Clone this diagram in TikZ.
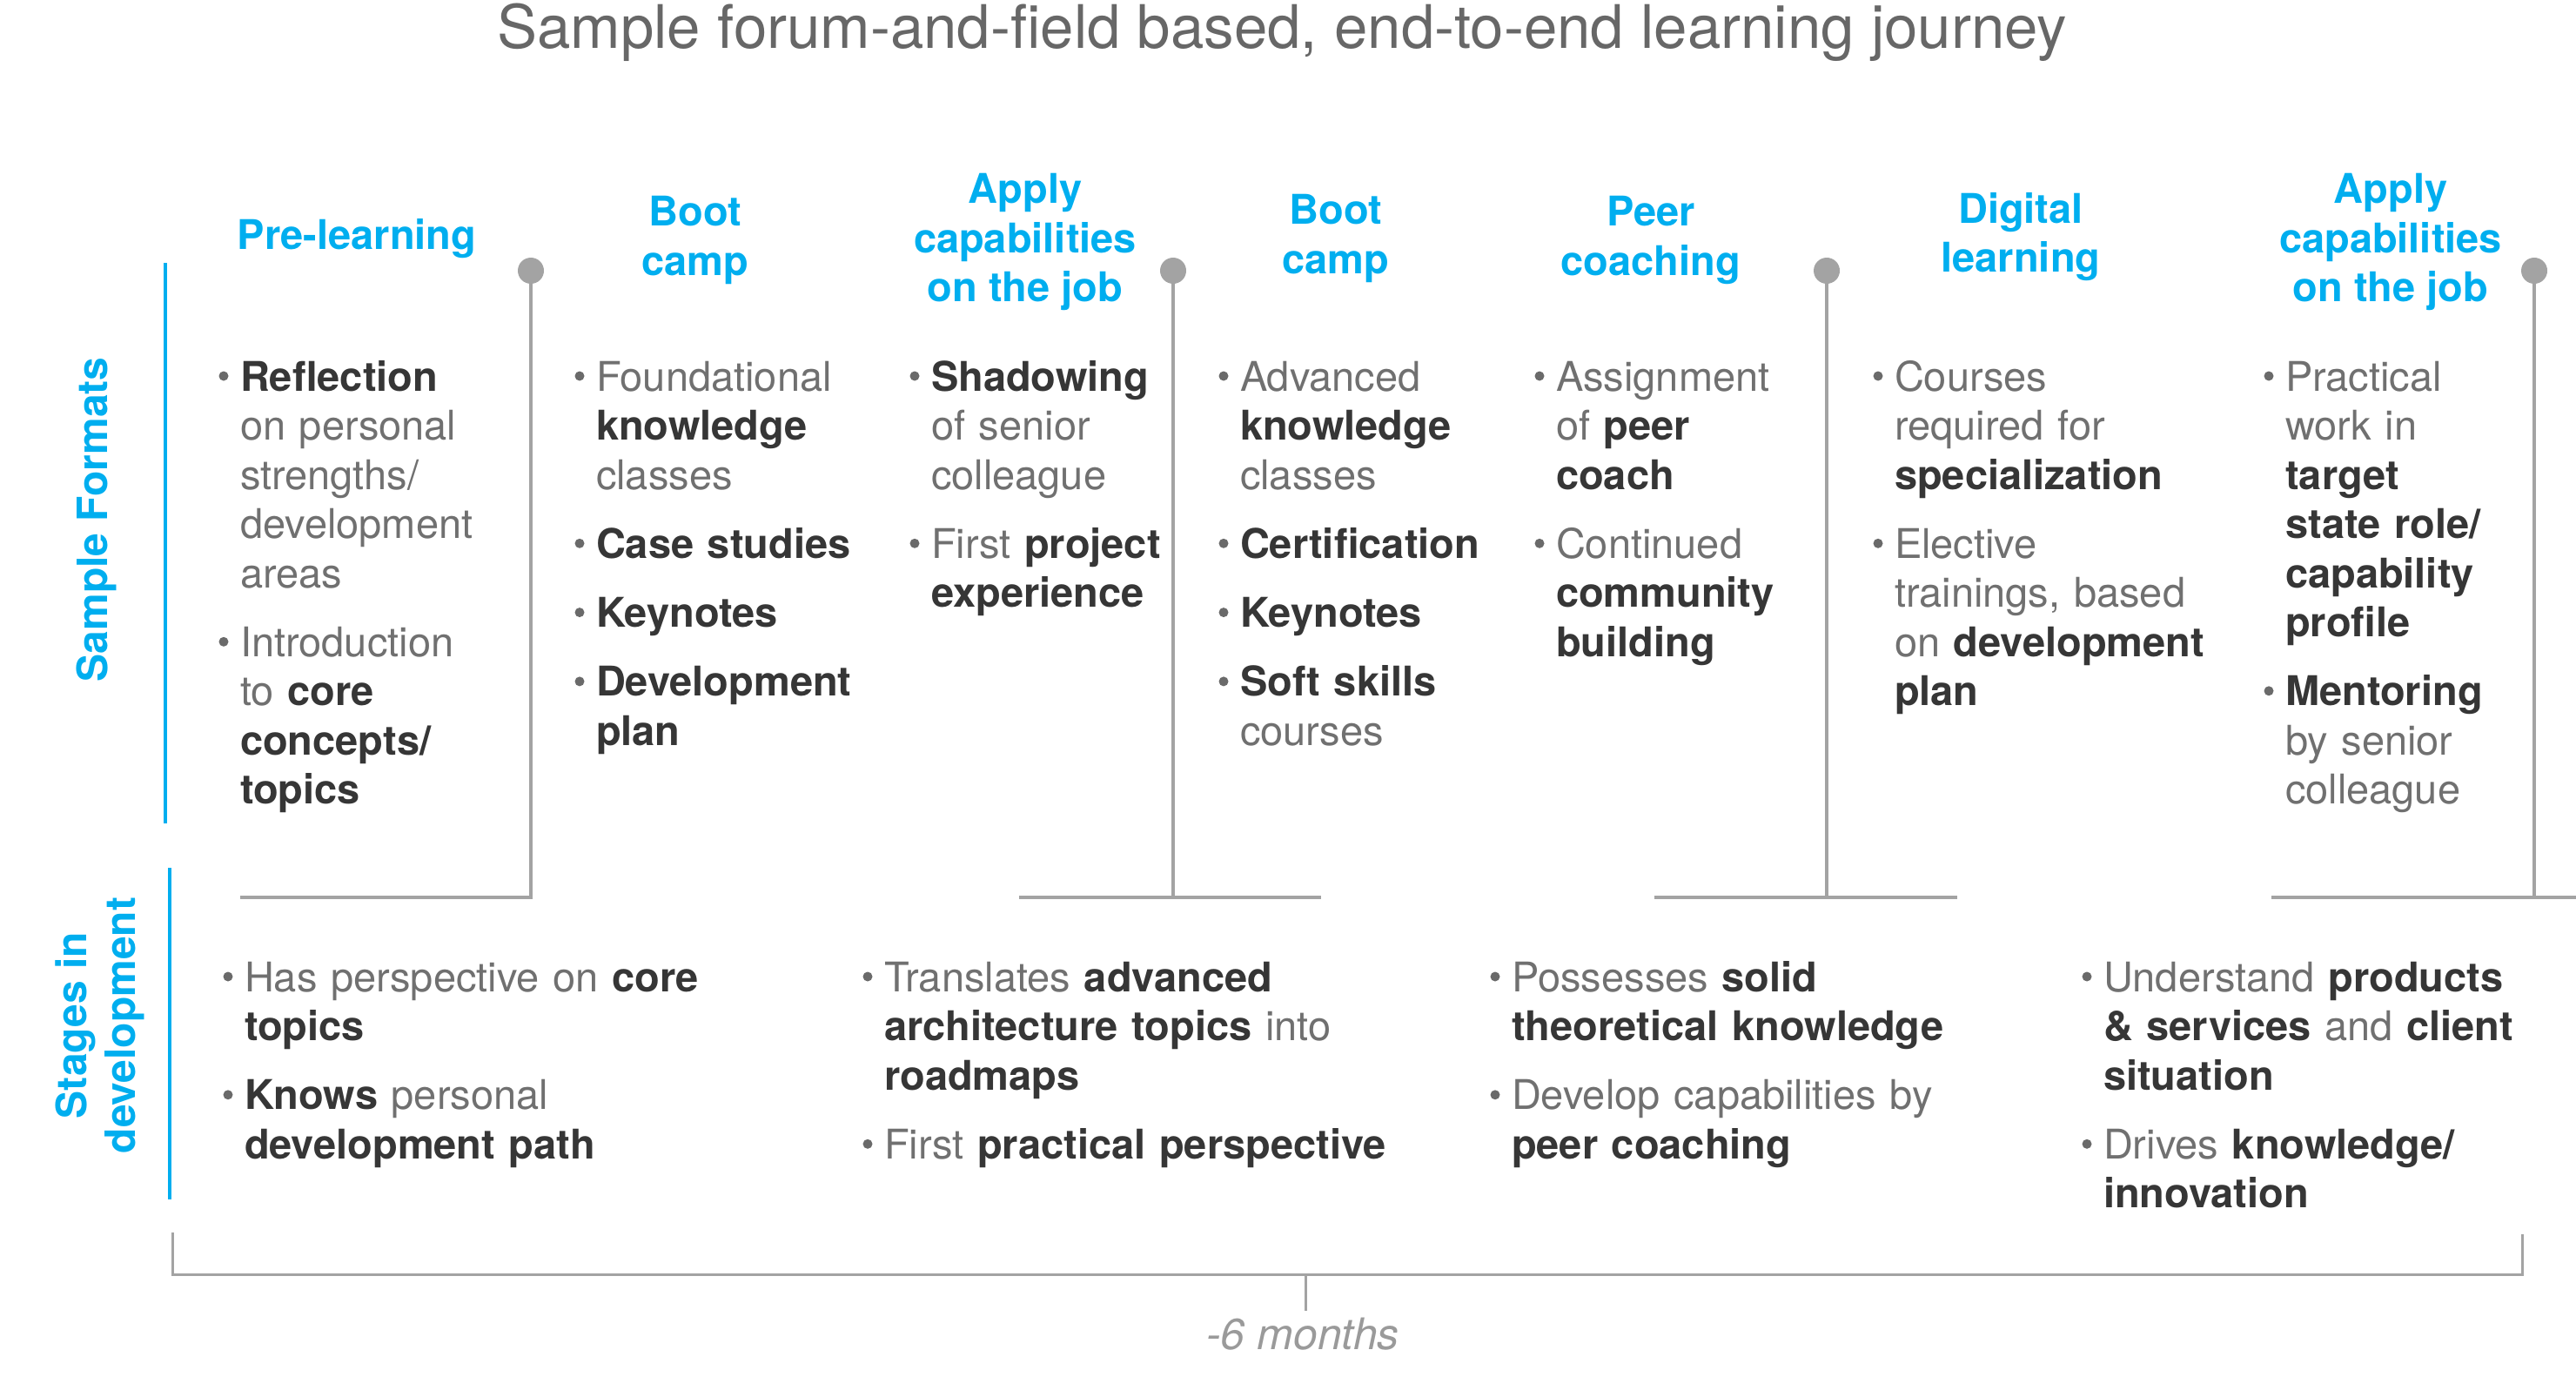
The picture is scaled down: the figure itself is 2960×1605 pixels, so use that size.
\documentclass[tikz,border=0pt]{standalone}
\usepackage{fontspec}
\setmainfont{TeX Gyre Heros}
\definecolor{cblue}{HTML}{00AEEF}
\definecolor{cgray}{HTML}{707070}
\definecolor{cdark}{HTML}{363636}
\definecolor{cline}{HTML}{A3A3A3}
\definecolor{cbul}{HTML}{6A6A6A}
\definecolor{ctitle}{HTML}{676767}
\definecolor{cmonth}{HTML}{9A9A9A}
\newcommand\B[1]{{\bfseries\color{cdark}#1}}
\newcommand\bul{\leavevmode\llap{\tikz[baseline=0pt,x=1pt,y=1pt]{\path (0,0); \fill[cbul] (0,8.5) circle[radius=2.75pt];}\hspace{6.75pt}}}
\newcommand\nxt{\par\vspace{11.4pt}}
\tikzset{
  every node/.style={inner sep=0pt,outer sep=0pt},
  hdr/.style={text=cblue,font=\fontsize{23.5}{28.25}\selectfont\bfseries,align=center,anchor=center},
  fmt/.style={anchor=base west,text width=220pt,align=left,text=cgray,font=\fontsize{23.5}{28.25}\selectfont},
  stg/.style={fmt,text width=330pt},
  pinhead/.style={circle,fill=cline,minimum size=15pt},
  gline/.style={draw=cline,line width=1.75pt},
  bline/.style={draw=cblue,line width=2pt},
  side/.style={text=cblue,font=\fontsize{24}{28}\selectfont\bfseries,rotate=90,align=center},
}
\begin{document}
\begin{tikzpicture}[x=0.5pt,y=-0.5pt]
\useasboundingbox (0,0) rectangle (2960,1605);
% title
\node[anchor=base,text=ctitle,font=\fontsize{34.5}{40}\selectfont] (title) at (1473,56) {Sample forum-and-field based, end-to-end learning journey};
% headers
\node[hdr] (h1) at (410,274) {Pre-learning};
\node[hdr] (h2) at (799,276) {Boot\\camp};
\node[hdr] (h3) at (1178,278) {Apply\\capabilities\\on the job};
\node[hdr] (h4) at (1535,274) {Boot\\camp};
\node[hdr] (h5) at (1897,276) {Peer\\coaching};
\node[hdr] (h6) at (2322,272) {Digital\\learning};
\node[hdr] (h7) at (2747,278) {Apply\\capabilities\\on the job};
% side labels
\coordinate (sfa) at (190,302); \coordinate (sfb) at (190,946);
\draw[bline] (sfa) -- (sfb);
\coordinate (sda) at (195,997); \coordinate (sdb) at (195,1378);
\draw[bline] (sda) -- (sdb);
\node[side,anchor=base] (sf) at (123,597) {Sample Formats};
\node[side] (sd) at (115,1178) {Stages in\\development};
% pins
\node[pinhead] (pin1) at (610,311) {};
\coordinate (pin1b) at (610,1031); \coordinate (bar1a) at (276,1031);
\draw[gline] (pin1.center) -- (pin1b) -- (bar1a);
\node[pinhead] (pin2) at (1348,311) {};
\coordinate (pin2b) at (1348,1031); \coordinate (bar2a) at (1171,1031); \coordinate (bar2b) at (1518,1031);
\draw[gline] (pin2.center) -- (pin2b); \draw[gline] (bar2a) -- (bar2b);
\node[pinhead] (pin3) at (2099,311) {};
\coordinate (pin3b) at (2099,1031); \coordinate (bar3a) at (1901,1031); \coordinate (bar3b) at (2249,1031);
\draw[gline] (pin3.center) -- (pin3b); \draw[gline] (bar3a) -- (bar3b);
\node[pinhead] (pin4) at (2912,311) {};
\coordinate (pin4b) at (2912,1031); \coordinate (bar4a) at (2610,1031); \coordinate (bar4b) at (2960,1031);
\draw[gline] (pin4.center) -- (pin4b); \draw[gline] (bar4a) -- (bar4b);
% formats
\node[fmt] (f1) at (276,449) {\bul\B{Reflection}\\on personal\\strengths/\\development\\areas\nxt\bul Introduction\\to \B{core}\\\B{concepts/}\\\B{topics}};
\node[fmt] (f2) at (685,449) {\bul Foundational\\\B{knowledge}\\classes\nxt\bul\B{Case studies}\nxt\bul\B{Keynotes}\nxt\bul\B{Development}\\\B{plan}};
\node[fmt] (f3) at (1070,449) {\bul\B{Shadowing}\\of senior\\colleague\nxt\bul First \B{project}\\\B{experience}};
\node[fmt] (f4) at (1425,449) {\bul Advanced\\\B{knowledge}\\classes\nxt\bul\B{Certification}\nxt\bul\B{Keynotes}\nxt\bul\B{Soft skills}\\courses};
\node[fmt] (f5) at (1788,449) {\bul Assignment\\of \B{peer}\\\B{coach}\nxt\bul Continued\\\B{community}\\\B{building}};
\node[fmt] (f6) at (2177,449) {\bul Courses\\required for\\\B{specialization}\nxt\bul Elective\\trainings, based\\on \B{development}\\\B{plan}};
\node[fmt] (f7) at (2626,449) {\bul Practical\\work in\\\B{target}\\\B{state role/}\\\B{capability}\\\B{profile}\nxt\bul\B{Mentoring}\\by senior\\colleague};
% stages
\node[stg] (s1) at (281,1139) {\bul Has perspective on \B{core}\\\B{topics}\nxt\bul\B{Knows} personal\\\B{development path}};
\node[stg] (s2) at (1016,1139) {\bul Translates \B{advanced}\\\B{architecture topics} into\\\B{roadmaps}\nxt\bul First \B{practical perspective}};
\node[stg] (s3) at (1737,1139) {\bul Possesses \B{solid}\\\B{theoretical knowledge}\nxt\bul Develop capabilities by\\\B{peer coaching}};
\node[stg] (s4) at (2417,1139) {\bul Understand \B{products}\\\B{\& services} and \B{client}\\\B{situation}\nxt\bul Drives \B{knowledge/}\\\B{innovation}};
% time bracket
\coordinate (ba) at (198,1416); \coordinate (bb) at (198,1464);
\coordinate (bc) at (2898,1464); \coordinate (bd) at (2898,1418);
\draw[gline,line width=1.5pt] (ba) -- (bb) -- (bc) -- (bd);
\coordinate (tk) at (1500,1464); \coordinate (tkb) at (1500,1506);
\draw[gline,line width=1.5pt] (tk) -- (tkb);
\node[anchor=base,text=cmonth,font=\fontsize{25}{30}\selectfont\itshape] (months) at (1497,1550) {-6 months};
\end{tikzpicture}
\end{document}
